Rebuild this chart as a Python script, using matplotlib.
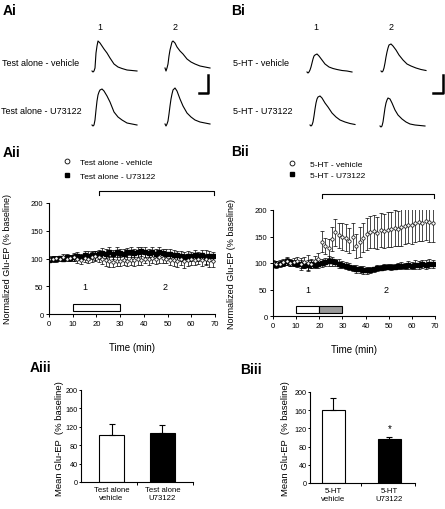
import matplotlib
matplotlib.use('Agg')
import matplotlib.pyplot as plt
from matplotlib.lines import Line2D
from matplotlib.patches import Rectangle

plt.rcParams['font.family'] = ['Liberation Sans', 'DejaVu Sans']

# ---- data ----
# example EP traces (sample index, amplitude in arbitrary units)
trace_t = [0, 1, 2, 3, 4, 5, 6, 7, 8, 10, 12, 15, 18, 22, 26, 30, 35, 40, 45]
A_veh_1 = [0, -1, 0, 3, 18, 25, 30, 29, 28, 25, 22, 18, 13, 7, 4, 2.5, 1, 0.5, 0]
A_veh_2 = [0, -3, 0, 4, 12, 18, 22, 26, 27, 25, 21, 17, 14, 9, 6, 4, 2, 1, 0]
A_u73_1 = [0, -1, 0, 5, 15, 24, 30, 33, 35, 36, 34, 29, 23, 13, 8, 5, 2, 1, 0]
A_u73_2 = [0, -2, 0, 3, 10, 18, 25, 30, 34, 36, 33, 25, 18, 11, 7, 4, 2, 1, 0]
B_veh_1 = [0, -1, 0, 2, 5, 9, 13, 16, 17, 18, 16, 12, 8, 5, 3.5, 2.5, 1.5, 1, 0]
B_veh_2 = [0, -1, 0, 3, 8, 14, 19, 23, 26, 27, 25, 21, 16, 11, 7, 5, 3, 1.5, 0.5]
B_u73_1 = [0, -1, 0, 3, 9, 16, 22, 26, 28, 29, 27, 22, 18, 12, 8, 5, 3, 1.5, 0.5]
B_u73_2 = [0, -1, 0, 4, 11, 18, 23, 26, 28, 27, 23, 16, 11, 7, 4, 2, 1, 0.5, 0]

# time course (min)
time_min = [0, 1.5, 3, 4.5, 6, 7.5, 9, 10.5, 12, 13.5, 15, 16.5, 18, 19.5,
            21, 22.5, 24, 25.5, 27, 28.5, 30, 31.5, 33, 34.5, 36, 37.5, 39, 40.5,
            42, 43.5, 45, 46.5, 48, 49.5, 51, 52.5, 54, 55.5, 57, 58.5, 60, 61.5,
            63, 64.5, 66, 67.5, 69]

A_vehicle = [100, 99, 101, 100, 102, 100, 101, 103, 100, 98, 101, 99, 102, 104,
             103, 100, 97, 95, 94, 96, 95, 97, 96, 98, 97, 99, 98, 100,
             99, 101, 100, 102, 101, 100, 98, 97, 96, 99, 95, 97, 99, 98,
             100, 98, 99, 97, 96]
A_vehicle_err = [4, 5, 4, 5, 6, 5, 6, 7, 8, 8, 7, 8, 9, 9,
                 10, 10, 11, 10, 9, 10, 9, 9, 10, 9, 10, 11, 10, 9,
                 10, 9, 10, 11, 10, 9, 10, 11, 12, 10, 13, 11, 10, 9,
                 10, 11, 10, 12, 11]
A_u73122 = [98, 100, 99, 101, 100, 103, 101, 102, 104, 103, 106, 105, 107, 106,
            108, 110, 109, 111, 108, 112, 110, 109, 111, 112, 110, 111, 113, 112,
            110, 111, 109, 112, 110, 108, 109, 107, 106, 104, 103, 105, 104, 106,
            104, 106, 103, 105, 104]
A_u73122_err = [4, 4, 5, 4, 5, 6, 5, 6, 7, 6, 7, 8, 7, 8,
                8, 9, 8, 9, 8, 9, 8, 9, 8, 9, 8, 9, 8, 9,
                8, 9, 8, 9, 8, 9, 8, 9, 8, 9, 8, 9, 8, 9,
                8, 9, 13, 9, 8]

B_vehicle = [100, 98, 99, 101, 104, 100, 102, 103, 98, 101, 100, 99, 104, 107,
             140, 132, 128, 145, 158, 152, 150, 148, 142, 150, 132, 140, 148, 155,
             158, 160, 156, 162, 160, 163, 164, 166, 165, 168, 170, 172, 171, 175,
             178, 176, 180, 177, 176]
B_vehicle_err = [6, 5, 6, 7, 8, 6, 7, 8, 12, 10, 15, 9, 10, 12,
                 20, 15, 18, 22, 25, 24, 25, 25, 24, 26, 22, 28, 28, 30,
                 30, 31, 30, 32, 32, 33, 33, 34, 33, 35, 34, 35, 35, 36,
                 36, 35, 36, 37, 36]
B_u73122 = [98, 97, 99, 100, 103, 101, 100, 99, 98, 97, 96, 98, 97, 99,
            100, 102, 104, 103, 101, 99, 97, 95, 93, 91, 89, 88, 87, 86,
            87, 88, 90, 91, 92, 93, 92, 93, 94, 95, 94, 96, 95, 97,
            96, 98, 97, 99, 98]
B_u73122_err = [5, 6, 5, 6, 7, 6, 5, 7, 8, 7, 9, 8, 7, 8,
                8, 7, 9, 8, 7, 8, 7, 6, 7, 6, 7, 6, 7, 6,
                6, 5, 6, 5, 6, 5, 6, 5, 6, 7, 6, 7, 6, 8,
                7, 8, 9, 8, 7]

# mean bars
A_bar_labels = ['Test alone\nvehicle', 'Test alone\nU73122']
A_bar_mean = [103, 106]
A_bar_sem = [23, 19]
B_bar_labels = ['5-HT\nvehicle', '5-HT\nU73122']
B_bar_mean = [161, 96]
B_bar_sem = [25, 5]

# ---- layout helpers (pixel coords of the 445x510 figure) ----
W, H = 445, 510
def fx(x): return x / W
def fy(y): return 1 - y / H
def box(x0, y0, x1, y1):
    return [fx(x0), fy(y1), (x1 - x0) / W, (y1 - y0) / H]

fig = plt.figure(figsize=(W / 100, H / 100), dpi=100)

def label(x, y, s, size=6.5, **kw):
    fig.text(fx(x), fy(y), s, fontsize=size, va='center', **kw)

# ---- Ai / Bi traces ----
def trace(x0, base, amp):
    ax = fig.add_axes(box(x0, base - 40, x0 + 45, base + 3))
    ax.plot(trace_t, amp, color='k', lw=0.8, clip_on=False)
    ax.set_xlim(0, 45)
    ax.set_ylim(-3, 40)
    ax.axis('off')

trace(92, 72, A_veh_1)
trace(165, 69, A_veh_2)
trace(92, 126, A_u73_1)
trace(165, 125, A_u73_2)
trace(307, 73, B_veh_1)
trace(381, 72, B_veh_2)
trace(310, 126, B_u73_1)
trace(380, 127, B_u73_2)

for xs in [(208, 199), (443, 433)]:
    fig.add_artist(Line2D([fx(xs[0]), fx(xs[0]), fx(xs[1])], [fy(76), fy(94), fy(94)],
                          transform=fig.transFigure, color='k', lw=1.8))

label(3, 11, 'Ai', size=10, weight='bold')
label(231, 11, 'Bi', size=10, weight='bold')
label(100, 27, '1', ha='center')
label(175, 27, '2', ha='center')
label(316, 27, '1', ha='center')
label(391, 27, '2', ha='center')
label(2, 63, 'Test alone - vehicle')
label(1, 112, 'Test alone - U73122')
label(233, 63, '5-HT - vehicle')
label(233, 112, '5-HT - U73122')

# ---- Aii / Bii time courses ----
def style(ax, tick_size=5.5, pad=2):
    for s in ['top', 'right']:
        ax.spines[s].set_visible(False)
    for s in ['left', 'bottom']:
        ax.spines[s].set_linewidth(0.8)
    ax.tick_params(labelsize=tick_size, length=2, width=0.7, pad=pad)

def timecourse(ax, veh, veh_err, u73, u73_err, bracket_y, split):
    ax.errorbar(time_min, u73, yerr=u73_err, fmt='s', ms=2.2, color='k',
                elinewidth=0.5, capsize=1.2, capthick=0.5)
    ax.errorbar(time_min, veh, yerr=veh_err, fmt='o', ms=2.4, mfc='white', mec='k',
                mew=0.5, ecolor='k', elinewidth=0.5, capsize=1.2, capthick=0.5)
    ax.set_xlim(0, 70)
    ax.set_ylim(0, 200)
    ax.set_xticks(range(0, 71, 10))
    ax.set_yticks(range(0, 201, 50))
    style(ax)
    if split:
        ax.add_patch(Rectangle((10, 5), 10, 13, fc='white', ec='k', lw=0.8))
        ax.add_patch(Rectangle((20, 5), 10, 13, fc='#999999', ec='k', lw=0.8))
    else:
        ax.add_patch(Rectangle((10, 5), 20, 13, fc='white', ec='k', lw=0.8))
    ax.plot([21, 21, 69.5, 69.5], [bracket_y - 7, bracket_y, bracket_y, bracket_y - 7],
            color='k', lw=0.8, clip_on=False)
    ax.text(15, 50, '1', fontsize=6.5, ha='center', va='center')
    ax.text(49, 50, '2', fontsize=6.5, ha='center', va='center')
    ax.set_xlabel('Time (min)', fontsize=7, labelpad=11)

axA = fig.add_axes(box(49, 204, 215, 315))
timecourse(axA, A_vehicle, A_vehicle_err, A_u73122, A_u73122_err, 221, False)
axB = fig.add_axes(box(273, 211, 435, 317))
timecourse(axB, B_vehicle, B_vehicle_err, B_u73122, B_u73122_err, 230, True)

fig.text(fx(8), fy(259), 'Normalized Glu-EP (% baseline)', fontsize=6.5,
         rotation=90, ha='center', va='center')
fig.text(fx(231), fy(264), 'Normalized Glu-EP (% baseline)', fontsize=6.5,
         rotation=90, ha='center', va='center')

handles = [Line2D([], [], ls='none', marker='o', ms=3.5, mfc='white', mec='k', mew=0.6),
           Line2D([], [], ls='none', marker='s', ms=3, color='k')]
axA.legend(handles, ['Test alone - vehicle', 'Test alone - U73122'], loc='upper left',
           bbox_to_anchor=(fx(63), fy(159)), bbox_transform=fig.transFigure,
           frameon=False, fontsize=6, handlelength=1, handletextpad=1.0,
           labelspacing=0.75, borderpad=0, borderaxespad=0)
axB.legend(handles, ['5-HT - vehicle', '5-HT - U73122'], loc='upper left',
           bbox_to_anchor=(fx(288), fy(161)), bbox_transform=fig.transFigure,
           frameon=False, fontsize=6, handlelength=1, handletextpad=1.6,
           labelspacing=0.4, borderpad=0, borderaxespad=0)

label(3, 153, 'Aii', size=10, weight='bold')
label(231, 152, 'Bii', size=10, weight='bold')

# ---- Aiii / Biii mean bars ----
def bars(ax, labels, means, sems, width, xlim):
    ax.bar([0, 1], means, width=width, color=['white', 'black'], edgecolor='k', lw=0.8)
    ax.errorbar([0, 1], means, yerr=[[0, 0], sems], fmt='none', ecolor='k',
                elinewidth=0.8, capsize=2.5, capthick=0.8)
    ax.set_xlim(*xlim)
    ax.set_ylim(0, 200)
    ax.set_yticks(range(0, 201, 40))
    ax.set_xticks([0.5, xlim[1]])
    ax.set_xticklabels([])
    ax.set_xticks([0, 1], labels, minor=True)
    style(ax, tick_size=5.2, pad=1)
    ax.tick_params(axis='y', length=1.5)
    ax.tick_params(axis='x', which='minor', length=0, labelsize=5.6, pad=3)

axC = fig.add_axes(box(81, 391, 193, 483))
bars(axC, A_bar_labels, A_bar_mean, A_bar_sem, 0.5, (-0.6, 1.6))
axD = fig.add_axes(box(310, 393, 415, 484))
bars(axD, B_bar_labels, B_bar_mean, B_bar_sem, 0.42, (-0.42, 1.46))
axD.text(1, 120, '*', fontsize=7, ha='center', va='center')

fig.text(fx(60), fy(439), 'Mean Glu-EP  (% baseline)', fontsize=6.8,
         rotation=90, ha='center', va='center')
fig.text(fx(286), fy(439), 'Mean Glu-EP  (% baseline)', fontsize=6.8,
         rotation=90, ha='center', va='center')

label(30, 368, 'Aiii', size=10, weight='bold')
label(240, 370, 'Biii', size=10, weight='bold')

fig.savefig('out.png', dpi=100)
